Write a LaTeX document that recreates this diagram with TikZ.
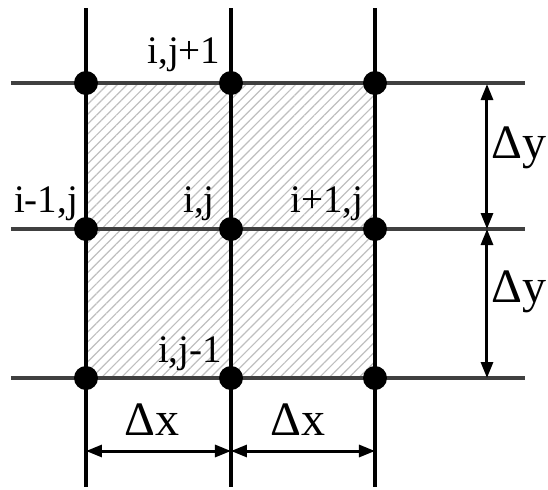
\documentclass[tikz,border=0pt]{standalone}
\usepackage{fontspec}
\setmainfont{Liberation Serif}
\usepackage{tikz}
\usetikzlibrary{arrows.meta,positioning,patterns.meta}

\tikzset{
  dot/.style={circle, fill=black, inner sep=0pt, minimum size=12pt},
  vline/.style={line width=1.7pt, black},
  hline/.style={line width=2pt, black!75},
  dim/.style={{Triangle[length=8pt,width=6pt]}-{Triangle[length=8pt,width=6pt]}, line width=1.5pt},
  lbl/.style={anchor=base, font=\fontsize{19.5}{20}\selectfont, inner sep=0pt},
  dlbl/.style={anchor=base, font=\fontsize{24}{26}\selectfont, inner sep=0pt}
}

\begin{document}
\begin{tikzpicture}[x=0.5pt, y=-0.5pt]
  \useasboundingbox (0,0) rectangle (548,489);

  % Hatched cells
  \fill[pattern={Lines[angle=45, distance=3.5pt, line width=0.6pt]}, pattern color=black!25]
    (86,83) rectangle (375,378);

  % Grid lines
  \foreach \x [count=\c] in {86,231,375} {
    \coordinate (top\c) at (\x,8);
    \coordinate (bot\c) at (\x,487);
    \draw[vline] (top\c) -- (bot\c);
  }
  \foreach \y [count=\r] in {83,229,378} {
    \coordinate (left\r) at (11,\y);
    \coordinate (right\r) at (525,\y);
    \draw[hline] (left\r) -- (right\r);
  }

  % Define nodes
  \foreach \x [count=\c] in {86,231,375}
    \foreach \y [count=\r] in {83,229,378}
      \node[dot] (g\c\r) at (\x,\y) {};

  % Labels
  \node[lbl] (ijp) at (184,63) {i,j+1};
  \node[lbl] (imj) at (46,212) {i-1,j};
  \node[lbl] (ij) at (199,212) {i,j};
  \node[lbl] (ipj) at (327,212) {i+1,j};
  \node[lbl] (ijm) at (190,362) {i,j-1};

  % Draw arrows
  \coordinate (dx1) at (86,451);
  \coordinate (dx2) at (231,451);
  \coordinate (dx3) at (375,451);
  \draw[dim] (dx1) -- (dx2);
  \draw[dim] (dx2) -- (dx3);
  \node[dlbl] (lx1) at (152,435) {Δx};
  \node[dlbl] (lx2) at (298,435) {Δx};

  \coordinate (dy1) at (487,84);
  \coordinate (dy2) at (487,229);
  \coordinate (dy3) at (487,378);
  \draw[dim] (dy1) -- (dy2);
  \draw[dim] (dy2) -- (dy3);
  \node[dlbl, anchor=base west] (ly1) at (491,158) {Δy};
  \node[dlbl, anchor=base west] (ly2) at (491,302) {Δy};
\end{tikzpicture}
\end{document}
